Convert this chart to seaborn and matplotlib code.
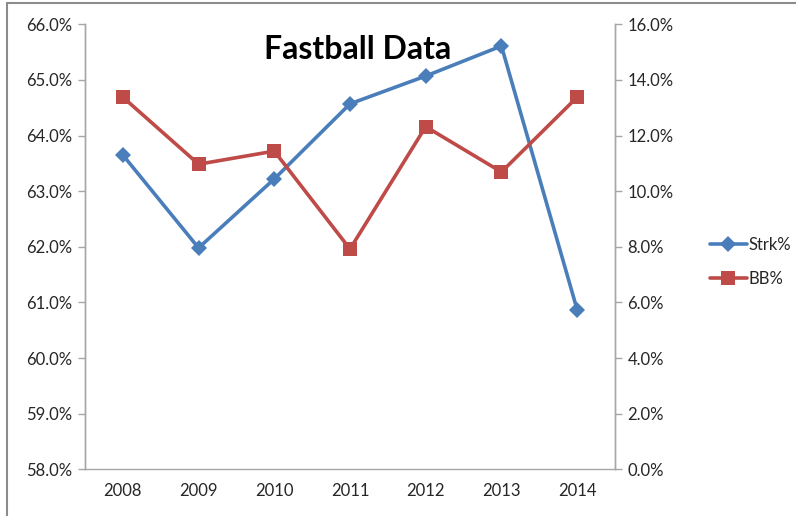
import pandas as pd
import matplotlib.pyplot as plt
import seaborn as sns
from matplotlib.ticker import PercentFormatter, FixedLocator

# dados
anos = ['2008', '2009', '2010', '2011', '2012', '2013', '2014']
strk_pct = [63.65, 61.98, 63.22, 64.57, 65.07, 65.61, 60.87]
bb_pct = [13.38, 10.97, 11.44, 7.92, 12.32, 10.69, 13.38]

df = pd.DataFrame({'Ano': anos, 'Strk%': strk_pct, 'BB%': bb_pct})

azul = '#4A7EBB'
vermelho = '#BE4B48'
cinza = '#A6A6A6'
texto = '#262626'

sns.set_style('white')
plt.rcParams['font.family'] = ['Lato', 'DejaVu Sans']

fig = plt.figure(figsize=(7.96, 5.16), dpi=100)
ax = fig.add_axes([85 / 796, 1 - 469.3 / 516, 530 / 796, 445 / 516])
ax2 = ax.twinx()

sns.lineplot(data=df, x='Ano', y='Strk%', ax=ax, color=azul, lw=2.6,
             marker='D', markersize=8, markeredgewidth=0, label='Strk%', legend=False)
sns.lineplot(data=df, x='Ano', y='BB%', ax=ax2, color=vermelho, lw=2.6,
             marker='s', markersize=10, markeredgewidth=0, label='BB%', legend=False)

ax.set_xlim(-0.5, 6.5)
ax.set_ylim(58, 66)
ax2.set_ylim(0, 16)
ax.set_yticks([58, 59, 60, 61, 62, 63, 64, 65, 66])
ax2.set_yticks([0, 2, 4, 6, 8, 10, 12, 14, 16])
ax.yaxis.set_major_formatter(PercentFormatter(decimals=1))
ax2.yaxis.set_major_formatter(PercentFormatter(decimals=1))

# marcas do eixo x entre as categorias, rotulos no centro
ax.set_xticks(range(len(anos)))
ax.set_xticklabels(anos)
ax.xaxis.set_minor_locator(FixedLocator([i - 0.5 for i in range(len(anos) + 1)]))
ax.tick_params(axis='x', which='major', length=0, pad=10, labelsize=12, labelcolor=texto)
ax.tick_params(axis='x', which='minor', length=5, width=1, color=cinza, direction='out')
ax.tick_params(axis='y', length=5, width=1, color=cinza, direction='out', pad=4,
               labelsize=12, labelcolor=texto, left=True)
ax2.tick_params(axis='y', length=5, width=1, color=cinza, direction='out', pad=4,
                labelsize=12, labelcolor=texto, right=True)

ax.set_xlabel('')
ax.set_ylabel('')
ax2.set_ylabel('')

for a in (ax, ax2):
    a.spines['top'].set_visible(False)
    for s in ('left', 'right', 'bottom'):
        a.spines[s].set_color(cinza)
        a.spines[s].set_linewidth(1)
ax2.spines['bottom'].set_visible(False)

ax.text(0.515, 0.975, 'Fastball Data', transform=ax.transAxes, ha='center', va='top',
        fontsize=23, fontweight='bold', color='black')

h1, l1 = ax.get_legend_handles_labels()
h2, l2 = ax2.get_legend_handles_labels()
fig.legend(h1 + h2, l1 + l2, loc='center left', bbox_to_anchor=(695 / 796, 1 - 262 / 516),
           frameon=False, fontsize=12, handlelength=2.2, handletextpad=0.1,
           labelspacing=1.1, labelcolor=texto)

# borda da figura (esquerda e topo)
fig.add_artist(plt.Line2D([7 / 796, 7 / 796], [0, 1 - 3 / 516], color='#8C8C8C', lw=1.5))
fig.add_artist(plt.Line2D([7 / 796, 1], [1 - 3 / 516, 1 - 3 / 516], color='#8C8C8C', lw=1.5))

plt.savefig('out.png', dpi=100)
